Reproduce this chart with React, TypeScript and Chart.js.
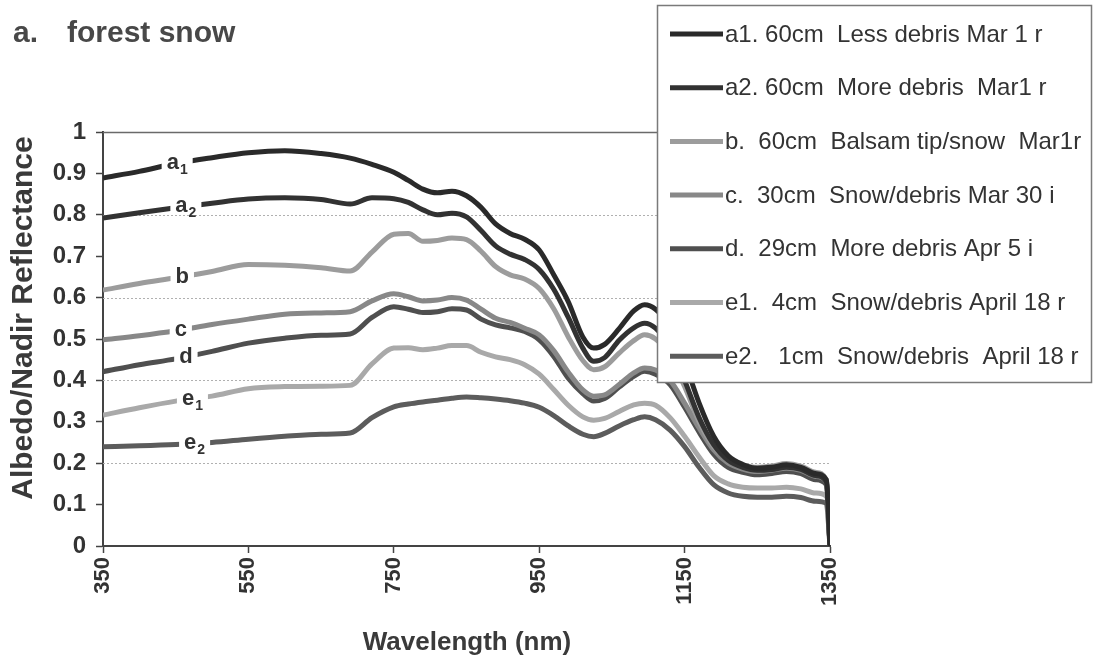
import React, { useEffect, useRef } from 'react';
import { Chart, registerables } from 'chart.js';

Chart.register(...registerables);

const FONT = '"Liberation Sans", Arial, Helvetica, sans-serif';

const WAVELENGTH = [350, 400, 450, 500, 550, 600, 650, 690, 720, 750, 770, 790, 810, 830, 850, 870, 890, 910, 930, 950, 970, 990, 1010, 1025, 1040, 1060, 1080, 1095, 1110, 1130, 1150, 1170, 1190, 1210, 1230, 1250, 1270, 1290, 1310, 1330, 1345, 1350];

const A1 = [0.889, 0.905, 0.924, 0.938, 0.95, 0.955, 0.948, 0.937, 0.922, 0.903, 0.883, 0.862, 0.853, 0.857, 0.846, 0.818, 0.778, 0.755, 0.741, 0.715, 0.655, 0.59, 0.505, 0.478, 0.487, 0.525, 0.568, 0.583, 0.572, 0.53, 0.445, 0.345, 0.265, 0.218, 0.197, 0.188, 0.19, 0.196, 0.19, 0.175, 0.16, 0];
const A2 = [0.792, 0.805, 0.817, 0.828, 0.838, 0.841, 0.837, 0.826, 0.841, 0.839, 0.83, 0.812, 0.8, 0.804, 0.795, 0.762, 0.725, 0.705, 0.692, 0.668, 0.62, 0.552, 0.478, 0.446, 0.455, 0.497, 0.527, 0.538, 0.526, 0.48, 0.4, 0.31, 0.245, 0.207, 0.19, 0.183, 0.185, 0.19, 0.185, 0.17, 0.155, 0];
const B = [0.618, 0.634, 0.648, 0.663, 0.68, 0.678, 0.672, 0.664, 0.71, 0.753, 0.755, 0.736, 0.738, 0.744, 0.74, 0.712, 0.675, 0.655, 0.645, 0.622, 0.573, 0.505, 0.448, 0.426, 0.433, 0.466, 0.496, 0.51, 0.5, 0.46, 0.385, 0.3, 0.24, 0.21, 0.196, 0.19, 0.193, 0.199, 0.193, 0.178, 0.16, 0];
const C = [0.498, 0.508, 0.52, 0.535, 0.548, 0.56, 0.563, 0.566, 0.592, 0.609, 0.602, 0.592, 0.594, 0.6, 0.594, 0.572, 0.55, 0.54, 0.526, 0.51, 0.472, 0.42, 0.377, 0.362, 0.365, 0.39, 0.418, 0.43, 0.425, 0.4, 0.345, 0.285, 0.232, 0.2, 0.186, 0.18, 0.183, 0.188, 0.183, 0.168, 0.155, 0];
const D = [0.421, 0.438, 0.452, 0.47, 0.49, 0.502, 0.509, 0.512, 0.552, 0.578, 0.572, 0.564, 0.566, 0.573, 0.57, 0.548, 0.534, 0.527, 0.518, 0.498, 0.458, 0.405, 0.368, 0.35, 0.356, 0.384, 0.41, 0.422, 0.415, 0.39, 0.335, 0.275, 0.222, 0.19, 0.178, 0.172, 0.175, 0.18, 0.175, 0.16, 0.148, 0];
const E1 = [0.316, 0.334, 0.35, 0.362, 0.38, 0.385, 0.386, 0.388, 0.44, 0.478, 0.479, 0.474, 0.478, 0.484, 0.484, 0.468, 0.457, 0.45, 0.438, 0.415, 0.378, 0.34, 0.312, 0.304, 0.308, 0.325, 0.341, 0.345, 0.34, 0.31, 0.265, 0.215, 0.17, 0.15, 0.142, 0.14, 0.14, 0.142, 0.138, 0.128, 0.12, 0];
const E2 = [0.24, 0.242, 0.245, 0.25, 0.258, 0.265, 0.27, 0.273, 0.31, 0.336, 0.343, 0.348, 0.352, 0.357, 0.36, 0.358, 0.355, 0.351, 0.345, 0.335, 0.315, 0.29, 0.27, 0.264, 0.272, 0.29, 0.305, 0.312, 0.305, 0.28, 0.24, 0.19, 0.148, 0.128, 0.12, 0.118, 0.118, 0.12, 0.117, 0.108, 0.103, 0];

const SERIES_VALUES = [A1, A2, B, C, D, E1, E2];
const SERIES_LABELS = [
  'a1. 60cm  Less debris Mar 1 r',
  'a2. 60cm  More debris  Mar1 r',
  'b.  60cm  Balsam tip/snow  Mar1r',
  'c.  30cm  Snow/debris Mar 30 i',
  'd.  29cm  More debris Apr 5 i',
  'e1.  4cm  Snow/debris April 18 r',
  'e2.   1cm  Snow/debris  April 18 r',
];
const SERIES_COLORS = ['#2a2a2a', '#323232', '#9c9c9c', '#888888', '#4f4f4f', '#a9a9a9', '#5c5c5c'];

const CURVE_LABEL_MAIN = ['a', 'a', 'b', 'c', 'd', 'e', 'e'];
const CURVE_LABEL_SUB = ['1', '2', '', '', '', '1', '2'];
const CURVE_LABEL_NM = [452, 464, 459, 457, 464, 473, 476];

const Y_GRID_VALUES = [0.2, 0.4, 0.6, 0.8, 1.0];

function interp(xs: number[], ys: number[], x: number) {
  for (let i = 0; i < xs.length - 1; i++) {
    if (x >= xs[i] && x <= xs[i + 1]) {
      const t = (x - xs[i]) / (xs[i + 1] - xs[i]);
      return ys[i] + t * (ys[i + 1] - ys[i]);
    }
  }
  return ys[ys.length - 1];
}

const gridPlugin = {
  id: 'customGrid',
  beforeDatasetsDraw(chart: any) {
    const { ctx, chartArea, scales } = chart;
    const y = scales.y;
    Y_GRID_VALUES.forEach((v) => {
      const py = Math.round(y.getPixelForValue(v)) + 0.5;
      ctx.save();
      ctx.beginPath();
      if (v === 1) {
        ctx.strokeStyle = '#6a6a6a';
        ctx.lineWidth = 1.5;
      } else {
        ctx.strokeStyle = '#b0b0b0';
        ctx.lineWidth = 1;
        ctx.setLineDash([2, 2]);
      }
      ctx.moveTo(chartArea.left, py);
      ctx.lineTo(chartArea.right, py);
      ctx.stroke();
      ctx.restore();
    });
  },
};

const curveLabelPlugin = {
  id: 'curveLabels',
  afterDatasetsDraw(chart: any) {
    const { ctx, scales } = chart;
    const xs = scales.x;
    const ys = scales.y;
    SERIES_VALUES.forEach((vals, i) => {
      const nm = CURVE_LABEL_NM[i];
      const v = interp(WAVELENGTH, vals, nm);
      const px = xs.getPixelForValue(nm);
      const py = ys.getPixelForValue(v);
      ctx.save();
      ctx.font = `bold 22px ${FONT}`;
      const wm = ctx.measureText(CURVE_LABEL_MAIN[i]).width;
      ctx.font = `bold 14px ${FONT}`;
      const ws = CURVE_LABEL_SUB[i] ? ctx.measureText(CURVE_LABEL_SUB[i]).width + 1 : 0;
      const total = wm + ws;
      const left = px - total / 2;
      ctx.fillStyle = '#ffffff';
      ctx.fillRect(left - 5, py - 6, total + 10, 12);
      ctx.fillStyle = '#333333';
      ctx.textBaseline = 'alphabetic';
      ctx.textAlign = 'left';
      ctx.font = `bold 22px ${FONT}`;
      ctx.fillText(CURVE_LABEL_MAIN[i], left, py + 6);
      if (CURVE_LABEL_SUB[i]) {
        ctx.font = `bold 14px ${FONT}`;
        ctx.fillText(CURVE_LABEL_SUB[i], left + wm + 1, py + 11);
      }
      ctx.restore();
    });
  },
};

const decorPlugin = {
  id: 'decor',
  afterDraw(chart: any) {
    const { ctx } = chart;
    ctx.save();
    ctx.fillStyle = '#484848';
    ctx.font = `bold 30px ${FONT}`;
    ctx.textBaseline = 'alphabetic';
    ctx.textAlign = 'left';
    ctx.fillText('a.', 13, 42);
    ctx.fillText('forest snow', 67, 42);

    ctx.fillStyle = '#3a3a3a';
    ctx.font = `bold 26px ${FONT}`;
    ctx.textAlign = 'center';
    ctx.textBaseline = 'middle';
    ctx.fillText('Wavelength (nm)', 467, 643);

    ctx.save();
    ctx.translate(24, 318);
    ctx.rotate(-Math.PI / 2);
    ctx.font = `bold 30px ${FONT}`;
    ctx.fillText('Albedo/Nadir Reflectance', 0, 0);
    ctx.restore();

    const bx = 657, by = 5, bw = 434, bh = 377;
    ctx.fillStyle = '#ffffff';
    ctx.fillRect(bx, by, bw, bh);
    ctx.strokeStyle = '#7a7a7a';
    ctx.lineWidth = 1.5;
    ctx.strokeRect(bx + 0.5, by + 0.5, bw, bh);

    chart.data.datasets.forEach((ds: any, i: number) => {
      const cy = 34 + i * 53.7;
      ctx.beginPath();
      ctx.strokeStyle = ds.borderColor;
      ctx.lineWidth = 5;
      ctx.moveTo(670, cy);
      ctx.lineTo(723, cy);
      ctx.stroke();
      ctx.fillStyle = '#333333';
      ctx.font = `24px ${FONT}`;
      ctx.textAlign = 'left';
      ctx.textBaseline = 'middle';
      ctx.fillText(ds.label, 725, cy + 1);
    });
    ctx.restore();
  },
};

export default function App() {
  const canvasRef = useRef<HTMLCanvasElement | null>(null);

  useEffect(() => {
    if (!canvasRef.current) return;
    Chart.defaults.font.family = FONT;
    const datasets = SERIES_VALUES.map((vals, i) => ({
      label: SERIES_LABELS[i],
      data: WAVELENGTH.map((x, j) => ({ x, y: vals[j] })),
      borderColor: SERIES_COLORS[i],
      backgroundColor: SERIES_COLORS[i],
      borderWidth: 5,
      pointRadius: 0,
      cubicInterpolationMode: 'monotone' as const,
      fill: false,
    }));
    const chart = new Chart(canvasRef.current, {
      type: 'line',
      data: { datasets },
      options: {
        animation: false,
        responsive: false,
        maintainAspectRatio: false,
        layout: { padding: { top: 132, right: 266, bottom: 0, left: 0 } },
        plugins: { legend: { display: false }, tooltip: { enabled: false }, title: { display: false } },
        scales: {
          x: {
            type: 'linear',
            min: 350,
            max: 1350,
            ticks: {
              stepSize: 200,
              autoSkip: false,
              minRotation: 90,
              maxRotation: 90,
              padding: 4,
              color: '#333333',
              font: { family: FONT, size: 22, weight: 'bold' },
              callback: (v: any) => String(Math.round(Number(v))),
            },
            grid: { drawOnChartArea: false, drawTicks: true, tickLength: 7, tickColor: '#444444', tickWidth: 1.5 },
            border: { color: '#444444', width: 2 },
            afterFit: (s: any) => { s.height = 118; },
          },
          y: {
            min: 0,
            max: 1,
            ticks: {
              stepSize: 0.1,
              padding: 10,
              color: '#333333',
              font: { family: FONT, size: 24, weight: 'bold' },
              callback: (v: any) => String(Number(Number(v).toFixed(1))),
            },
            grid: { drawOnChartArea: false, drawTicks: true, tickLength: 7, tickColor: '#444444', tickWidth: 1.5 },
            border: { color: '#444444', width: 2 },
            afterFit: (s: any) => { s.width = 103; },
          },
        },
      },
      plugins: [gridPlugin, curveLabelPlugin, decorPlugin],
    });
    return () => chart.destroy();
  }, []);

  return (
    <div style={{ position: 'absolute', left: 0, top: 0, width: 1096, height: 664, background: '#ffffff' }}>
      <canvas ref={canvasRef} width={1096} height={664} style={{ display: 'block' }} />
    </div>
  );
}
